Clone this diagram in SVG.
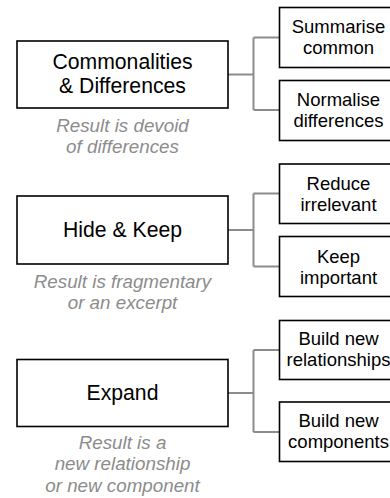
<svg xmlns="http://www.w3.org/2000/svg" width="390" height="498" viewBox="0 0 390 498">
<style>
.box{fill:#fff;stroke:#000;stroke-width:1.6}
.main{font-family:"Liberation Sans",Arial,sans-serif;font-size:21.2px;fill:#000;text-anchor:middle}
.sub{font-family:"Liberation Sans",Arial,sans-serif;font-size:18.5px;fill:#000;text-anchor:middle}
.cap{font-family:"Liberation Sans",Arial,sans-serif;font-size:18.8px;font-style:italic;fill:#8c8c8c;text-anchor:middle}
.conn{fill:none;stroke:#8c8c8c;stroke-width:2}
</style>
<rect width="390" height="498" fill="#fff"/>
<g id="connectors">
<path class="conn" d="M228 74.5H253.5M253.5 37.5V110M253.5 37.5H279M253.5 110H279"/>
<path class="conn" d="M228 230H253.5M253.5 193.5V266.5M253.5 193.5H279M253.5 266.5H279"/>
<path class="conn" d="M228 393H253.5M253.5 350V432M253.5 350H279M253.5 432H279"/>
</g>
<g id="commonalities">
<rect class="box" x="17" y="41" width="211" height="67"/>
<text class="main" x="122.5" y="68.5">Commonalities</text>
<text class="main" x="122.5" y="92.5">&amp; Differences</text>
<text class="cap" x="122.5" y="131.5">Result is devoid</text>
<text class="cap" x="122.5" y="152.5">of differences</text>
</g>
<g id="summarise">
<rect class="box" x="279.5" y="7.5" width="118" height="60"/>
<text class="sub" x="338.5" y="33">Summarise</text>
<text class="sub" x="338.5" y="54">common</text>
</g>
<g id="normalise">
<rect class="box" x="279.5" y="80.5" width="118" height="60"/>
<text class="sub" x="338.5" y="106">Normalise</text>
<text class="sub" x="338.5" y="127">differences</text>
</g>
<g id="hidekeep">
<rect class="box" x="17" y="196" width="211" height="68"/>
<text class="main" x="122.5" y="237">Hide &amp; Keep</text>
<text class="cap" x="122.5" y="288">Result is fragmentary</text>
<text class="cap" x="122.5" y="309">or an excerpt</text>
</g>
<g id="reduce">
<rect class="box" x="279.5" y="164" width="118" height="59.5"/>
<text class="sub" x="338.5" y="190">Reduce</text>
<text class="sub" x="338.5" y="211">irrelevant</text>
</g>
<g id="keep">
<rect class="box" x="279.5" y="236.5" width="118" height="60"/>
<text class="sub" x="338.5" y="263">Keep</text>
<text class="sub" x="338.5" y="284">important</text>
</g>
<g id="expand">
<rect class="box" x="17" y="359.5" width="211" height="67"/>
<text class="main" x="122.5" y="400">Expand</text>
<text class="cap" x="122.5" y="448.5">Result is a</text>
<text class="cap" x="122.5" y="470">new relationship</text>
<text class="cap" x="122.5" y="492">or new component</text>
</g>
<g id="relationships">
<rect class="box" x="279.5" y="320.5" width="118" height="59"/>
<text class="sub" x="338.5" y="345">Build new</text>
<text class="sub" x="338.5" y="366">relationships</text>
</g>
<g id="components">
<rect class="box" x="279.5" y="402" width="118" height="59.5"/>
<text class="sub" x="338.5" y="427">Build new</text>
<text class="sub" x="338.5" y="448">components</text>
</g>
</svg>
